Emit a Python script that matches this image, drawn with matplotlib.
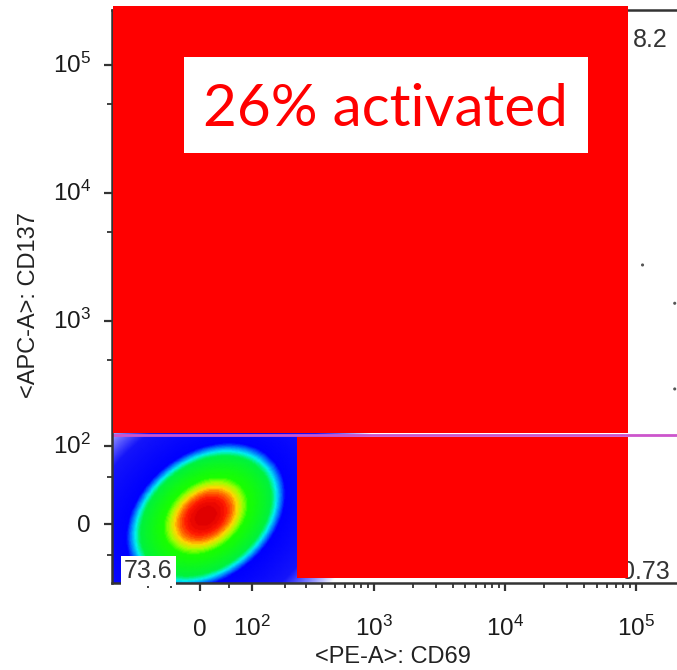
import numpy as np
import matplotlib
matplotlib.use("Agg")
import matplotlib.pyplot as plt
from matplotlib.colors import LinearSegmentedColormap, Normalize
from matplotlib.patches import Rectangle
from matplotlib.transforms import blended_transform_factory

plt.rcParams["font.family"] = ["Liberation Sans", "DejaVu Sans"]
plt.rcParams["mathtext.fontset"] = "custom"
plt.rcParams["mathtext.rm"] = "Liberation Sans"
plt.rcParams["mathtext.it"] = "Liberation Sans:italic"
plt.rcParams["mathtext.bf"] = "Liberation Sans:bold"

# ---- axis definitions (biexponential-like display) ----
x_label = "<PE-A>: CD69"
y_label = "<APC-A>: CD137"
x_limits = (-212, 262144)
y_limits = (-66, 269000)
x_tick_values = [0, 1e2, 1e3, 1e4, 1e5]
x_tick_labels = ["0", "10$^{2}$", "10$^{3}$", "10$^{4}$", "10$^{5}$"]
y_tick_values = [0, 1e2, 1e3, 1e4, 1e5]
y_tick_labels = ["0", "10$^{2}$", "10$^{3}$", "10$^{4}$", "10$^{5}$"]
x_minor_ticks = [-100, -50, 50] + [m * 10 ** k for k in (2, 3, 4) for m in range(2, 10)]
y_minor_ticks = [-30, 50, 500, 5000, 50000]

# ---- gates and statistics ----
gate_y = 124
quad_lower_left = "73.6"
quad_upper_right = "8.2"
quad_lower_right = "0.73"
headline = "26% activated"

# ---- main population (centre in data units, spread in display units) ----
pop_center = (10.0, 8.0)
pop_sigma = (0.53, 0.50)
pop_corr = 0.3

# ---- isolated events ----
event_x = [1.12e5, 1.97e5, 1.97e5]
event_y = [2745, 1378, 293]

W, H = 677, 670
X_WIDTH, Y_WIDTH = 95.0, 52.0


def fwd_x(v):
    return np.arcsinh(np.asarray(v, dtype=float) / X_WIDTH)


def inv_x(v):
    return X_WIDTH * np.sinh(np.asarray(v, dtype=float))


def fwd_y(v):
    return np.arcsinh(np.asarray(v, dtype=float) / Y_WIDTH)


def inv_y(v):
    return Y_WIDTH * np.sinh(np.asarray(v, dtype=float))


fig = plt.figure(figsize=(W / 100, H / 100), dpi=100)
fig.patch.set_facecolor("white")

# axes box in pixels: left 112, right 691, top 10, bottom 583
ax_l, ax_r, ax_t, ax_b = 112, 691, 10, 583
ax = fig.add_axes([ax_l / W, 1 - ax_b / H, (ax_r - ax_l) / W, (ax_b - ax_t) / H])
ax.set_xscale("function", functions=(fwd_x, inv_x))
ax.set_yscale("function", functions=(fwd_y, inv_y))
ax.set_xlim(*x_limits)
ax.set_ylim(*y_limits)

# pseudocolour density of the main population
sx = np.linspace(fwd_x(x_limits[0]), fwd_x(x_limits[1]), 500)
sy = np.linspace(fwd_y(y_limits[0]), fwd_y(y_limits[1]), 500)
SX, SY = np.meshgrid(sx, sy)
dx = (SX - fwd_x(pop_center[0])) / pop_sigma[0]
dy = (SY - fwd_y(pop_center[1])) / pop_sigma[1]
q = (dx ** 2 - 2 * pop_corr * dx * dy + dy ** 2) / (1 - pop_corr ** 2)
QMAX = 32.0
q = np.minimum(q, QMAX)

stops = [
    (0.0, (0.88, 0.0, 0.0)),
    (0.35, (1.0, 0.08, 0.0)),
    (0.7, (1.0, 0.45, 0.0)),
    (1.0, (1.0, 0.85, 0.0)),
    (1.4, (0.65, 1.0, 0.0)),
    (1.9, (0.1, 1.0, 0.0)),
    (4.6, (0.0, 0.95, 0.25)),
    (5.4, (0.0, 0.95, 0.95)),
    (6.1, (0.0, 0.5, 1.0)),
    (6.9, (0.0, 0.0, 1.0)),
    (17.0, (0.08, 0.08, 0.98)),
    (24.0, (0.5, 0.5, 1.0)),
    (32.0, (1.0, 1.0, 1.0)),
]
cmap = LinearSegmentedColormap.from_list("pseudo", [(s / QMAX, c) for s, c in stops])
ax.pcolormesh(inv_x(SX), inv_y(SY), q, cmap=cmap, norm=Normalize(0, QMAX),
              shading="gouraud", zorder=1, rasterized=True)

ax.scatter(event_x, event_y, s=5, color="#555555", edgecolors="none", zorder=2)

# quadrant gate
ax.axhline(gate_y, color="#cc55cc", lw=2.0, zorder=3)

# spines and ticks
for sp in ax.spines.values():
    sp.set_color("#333333")
    sp.set_linewidth(1.8)
    sp.set_zorder(4)
ax.set_xticks(x_tick_values)
ax.set_yticks(y_tick_values)
ax.set_xticks(x_minor_ticks, minor=True)
ax.set_yticks(y_minor_ticks, minor=True)
ax.set_xticklabels([])
ax.set_yticklabels([])
ax.tick_params(which="major", length=6, width=1.6, color="#333333", direction="out")
ax.tick_params(which="minor", length=3.5, width=1.3, color="#333333", direction="out")

PT = 0.72  # points per pixel at 100 dpi
TICK_FS = 17.5
xb = blended_transform_factory(ax.transData, ax.transAxes)
for v, lab in zip(x_tick_values, x_tick_labels):
    ax.annotate(lab, xy=(v, 0), xycoords=xb, xytext=(0, -53 * PT),
                textcoords="offset points", ha="center", va="baseline",
                fontsize=TICK_FS, color="#1a1a1a", annotation_clip=False)
yb = blended_transform_factory(ax.transAxes, ax.transData)
for v, lab in zip(y_tick_values, y_tick_labels):
    ax.annotate(lab, xy=(0, v), xycoords=yb, xytext=(-21 * PT, -8 * PT),
                textcoords="offset points", ha="right", va="baseline",
                fontsize=TICK_FS, color="#1a1a1a", annotation_clip=False)

# quadrant statistics
ax.annotate(quad_lower_left, xy=(0, 0), xycoords="axes fraction",
            xytext=(12 * PT, 5 * PT), textcoords="offset points",
            ha="left", va="baseline", fontsize=18, color="#333333", zorder=5,
            bbox=dict(boxstyle="square,pad=0.12", facecolor="white", edgecolor="none"))
ax.annotate(quad_upper_right, xy=(1, 1), xycoords="axes fraction",
            xytext=(-23 * PT, -37 * PT), textcoords="offset points",
            ha="right", va="baseline", fontsize=18, color="#333333", zorder=5)
ax.annotate(quad_lower_right, xy=(1, 0), xycoords="axes fraction",
            xytext=(-21 * PT, 4 * PT), textcoords="offset points",
            ha="right", va="baseline", fontsize=18, color="#333333", zorder=5)

# axis titles
fig.text(393 / W, 1 - 663 / H, x_label, ha="center", va="baseline",
         fontsize=17, color="#222222")
fig.text(29 / W, 1 - 305 / H, y_label, ha="center", va="center",
         rotation=90, fontsize=17, color="#222222")


# overlay panels in figure pixels
def px_rect(x0, y0, x1, y1, **kw):
    return Rectangle((x0 / W, 1 - y1 / H), (x1 - x0) / W, (y1 - y0) / H,
                     transform=fig.transFigure, **kw)


fig.add_artist(px_rect(113, 6, 628, 433, facecolor="#ff0000", edgecolor="none", zorder=10))
fig.add_artist(px_rect(297, 437, 628, 578, facecolor="#ff0000", edgecolor="none", zorder=10))
fig.add_artist(px_rect(184, 57, 588, 153, facecolor="white", edgecolor="none", zorder=11))
fig.text(385 / W, 1 - 126 / H, headline, ha="center", va="baseline",
         fontsize=42, color="#ff0000", family=["Lato", "DejaVu Sans"], zorder=12)

fig.savefig("out.png", dpi=100, facecolor="white")
